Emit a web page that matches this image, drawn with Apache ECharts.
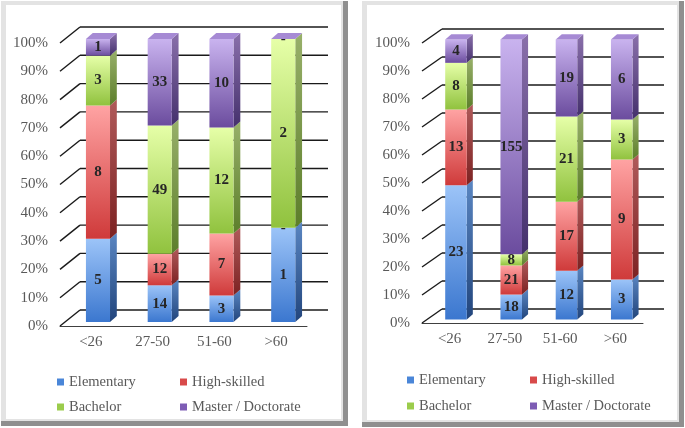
<!DOCTYPE html>
<html>
<head>
<meta charset="utf-8">
<script src="https://cdn.jsdelivr.net/npm/echarts@6/dist/echarts.min.js"></script>
<style>
html,body{margin:0;padding:0;background:#fff;}
#chart{width:685px;height:428px;}
#probe{position:absolute;left:-9999px;font-family:'Liberation Serif';}
</style>
</head>
<body>
<div id="probe">Ab <b>12</b></div>
<div id="chart"></div>
<script>
const categories = ['<26', '27-50', '51-60', '>60'];
const levels = ['Elementary', 'High-skilled', 'Bachelor', 'Master / Doctorate'];
const yTicks = [0, 0.1, 0.2, 0.3, 0.4, 0.5, 0.6, 0.7, 0.8, 0.9, 1];

// Left panel counts
const leftElementary  = [5, 14, 3, 1];
const leftHighSkilled = [8, 12, 7, 0];
const leftBachelor    = [3, 49, 12, 2];
const leftMaster      = [1, 33, 10, 0];

// Right panel counts
const rightElementary  = [23, 18, 12, 3];
const rightHighSkilled = [13, 21, 17, 9];
const rightBachelor    = [8, 8, 21, 3];
const rightMaster      = [4, 155, 19, 6];

const FONT = "'Liberation Serif', 'DejaVu Serif', serif";
const LG = echarts.graphic.LinearGradient;

const palette = [
  {front: ['#9cc4f8', '#3b77cf'], side: ['#5a86c2', '#22457c'], top: '#7aa8e8', legend: '#4a86d8'},
  {front: ['#ffa3a3', '#cf3a3a'], side: ['#b05a5a', '#7c2222'], top: '#f08080', legend: '#d84a4a'},
  {front: ['#e6ffa8', '#90c23e'], side: ['#98b06a', '#5c7e2a'], top: '#c8e890', legend: '#9bcc4c'},
  {front: ['#c9b3ef', '#6b4c9e'], side: ['#8a70ab', '#44306c'], top: '#a68ad4', legend: '#7d5cb4'}
];

const panels = [
  {counts: [leftElementary, leftHighSkilled, leftBachelor, leftMaster],
   grid: {left: 60, top: 43, width: 247, height: 283},
   back: [20, -16], yoff: -4},
  {counts: [rightElementary, rightHighSkilled, rightBachelor, rightMaster],
   grid: {left: 422, top: 43, width: 221, height: 280},
   back: [20, -14], yoff: -3.5}
];

function build() {
const grids = [], xAxes = [], yAxes = [], series = [];

panels.forEach((pn, pi) => {
  grids.push(Object.assign({containLabel: false}, pn.grid));
  xAxes.push({
    type: 'category', gridIndex: pi, data: categories,
    axisLine: {show: true, lineStyle: {color: '#404040', width: 1}},
    axisTick: {show: false},
    axisLabel: {color: '#595959', fontFamily: FONT, fontSize: 15, margin: 9},
    splitLine: {show: false}
  });
  yAxes.push({
    type: 'value', gridIndex: pi, min: 0, max: 1, interval: 0.1,
    axisLine: {show: false}, axisTick: {show: false}, splitLine: {show: false},
    axisLabel: {color: '#595959', fontFamily: FONT, fontSize: 15, margin: 12,
      formatter: v => Math.round(v * 100) + '%'}
  });

  series.push({
    type: 'custom', xAxisIndex: pi, yAxisIndex: pi, z: 1, silent: true,
    data: yTicks.map(v => [0, v]),
    renderItem: (params, api) => {
      const cs = params.coordSys;
      const y = api.coord([0, api.value(1)])[1];
      const l = cs.x, r = cs.x + cs.width;
      const bx = pn.back[0], by = pn.back[1];
      const st = {stroke: '#1a1a1a', lineWidth: 1.4, fill: null};
      return {type: 'group', children: [
        {type: 'line', shape: {x1: l, y1: y, x2: l + bx, y2: y + by}, style: st},
        {type: 'line', shape: {x1: l + bx, y1: y + by, x2: r + bx + 1, y2: y + by}, style: st}
      ]};
    }
  });

  const totals = categories.map((c, ci) => pn.counts.reduce((s, arr) => s + arr[ci], 0));
  const cum = categories.map(() => 0);
  pn.counts.forEach((arr, li) => {
    const data = arr.map((n, ci) => {
      const s = cum[ci] / totals[ci];
      cum[ci] += n;
      const e = cum[ci] / totals[ci];
      return [ci, s, e, n];
    });
    const pal = palette[li];
    const isTop = li === pn.counts.length - 1;
    series.push({
      type: 'custom', name: levels[li], xAxisIndex: pi, yAxisIndex: pi, z: 3,
      itemStyle: {color: pal.legend},
      encode: {x: 0, y: [1, 2]},
      data: data,
      renderItem: (params, api) => {
        const ci = api.value(0), s = api.value(1), e = api.value(2), n = api.value(3);
        const p0 = api.coord([ci, s]);
        const p1 = api.coord([ci, e]);
        const band = api.size([1, 0])[0];
        const w = band * 0.39;
        const x = p0[0] - w / 2 + band * 0.115;
        const yB = p0[1] + pn.yoff, yT = p1[1] + pn.yoff;
        const dx = band * 0.11, dy = -band * 0.097;
        const ch = [];
        if (yB - yT > 0.01) {
          ch.push({type: 'polygon', shape: {points: [[x + w, yT], [x + w + dx, yT + dy], [x + w + dx, yB + dy], [x + w, yB]]},
            style: {fill: new LG(0, 0, 0, 1, [{offset: 0, color: pal.side[0]}, {offset: 1, color: pal.side[1]}])}});
          ch.push({type: 'rect', shape: {x: x, y: yT, width: w, height: yB - yT},
            style: {fill: new LG(0, 0, 0, 1, [{offset: 0, color: pal.front[0]}, {offset: 1, color: pal.front[1]}])}});
        }
        if (isTop) {
          ch.push({type: 'polygon', shape: {points: [[x, yT], [x + dx, yT + dy], [x + w + dx, yT + dy], [x + w, yT]]},
            style: {fill: pal.top}});
        }
        ch.push({type: 'text', style: {text: n === 0 ? '-' : String(n), x: x + w / 2, y: (yB + yT) / 2,
          align: 'center', verticalAlign: 'middle', fill: '#262626',
          fontFamily: FONT, fontWeight: 'bold', fontSize: 15}, z2: 10});
        return {type: 'group', children: ch};
      }
    });
  });
});

function frame(x, y, w, h) {
  return [
    {type: 'rect', shape: {x: x, y: y, width: w, height: h}, style: {fill: '#8f8f8f'}, z: -10},
    {type: 'rect', shape: {x: x, y: y, width: w - 5, height: h - 5}, style: {fill: '#e3e3e3'}, z: -9},
    {type: 'rect', shape: {x: x + 5, y: y + 4, width: w - 12, height: h - 11}, style: {fill: '#ffffff'}, z: -8}
  ];
}

const legendBase = {
  orient: 'vertical', icon: 'rect', itemWidth: 7, itemHeight: 7, padding: 0,
  textStyle: {color: '#595959', fontFamily: FONT, fontSize: 14.5, lineHeight: 16},
  selectedMode: false
};

const option = {
  backgroundColor: '#ffffff',
  animation: false,
  graphic: {elements: [].concat(frame(1, 1, 347, 425), frame(362, 1, 322, 426))},
  grid: grids, xAxis: xAxes, yAxis: yAxes,
  legend: [
    Object.assign({}, legendBase, {left: 57, top: 374, itemGap: 9, data: [levels[0], levels[2]]}),
    Object.assign({}, legendBase, {left: 180, top: 374, itemGap: 9, data: [levels[1], levels[3]]}),
    Object.assign({}, legendBase, {left: 407, top: 372, itemGap: 10, data: [levels[0], levels[2]]}),
    Object.assign({}, legendBase, {left: 530, top: 372, itemGap: 10, data: [levels[1], levels[3]]})
  ],
  series: series
};

const chart = echarts.init(document.getElementById('chart'), null, {renderer: 'canvas'});
chart.setOption(option);
}

if (document.fonts && document.fonts.load) {
  Promise.all([
    document.fonts.load("15px 'Liberation Serif'"),
    document.fonts.load("bold 15px 'Liberation Serif'")
  ]).then(build, build);
} else {
  build();
}
</script>
</body>
</html>
